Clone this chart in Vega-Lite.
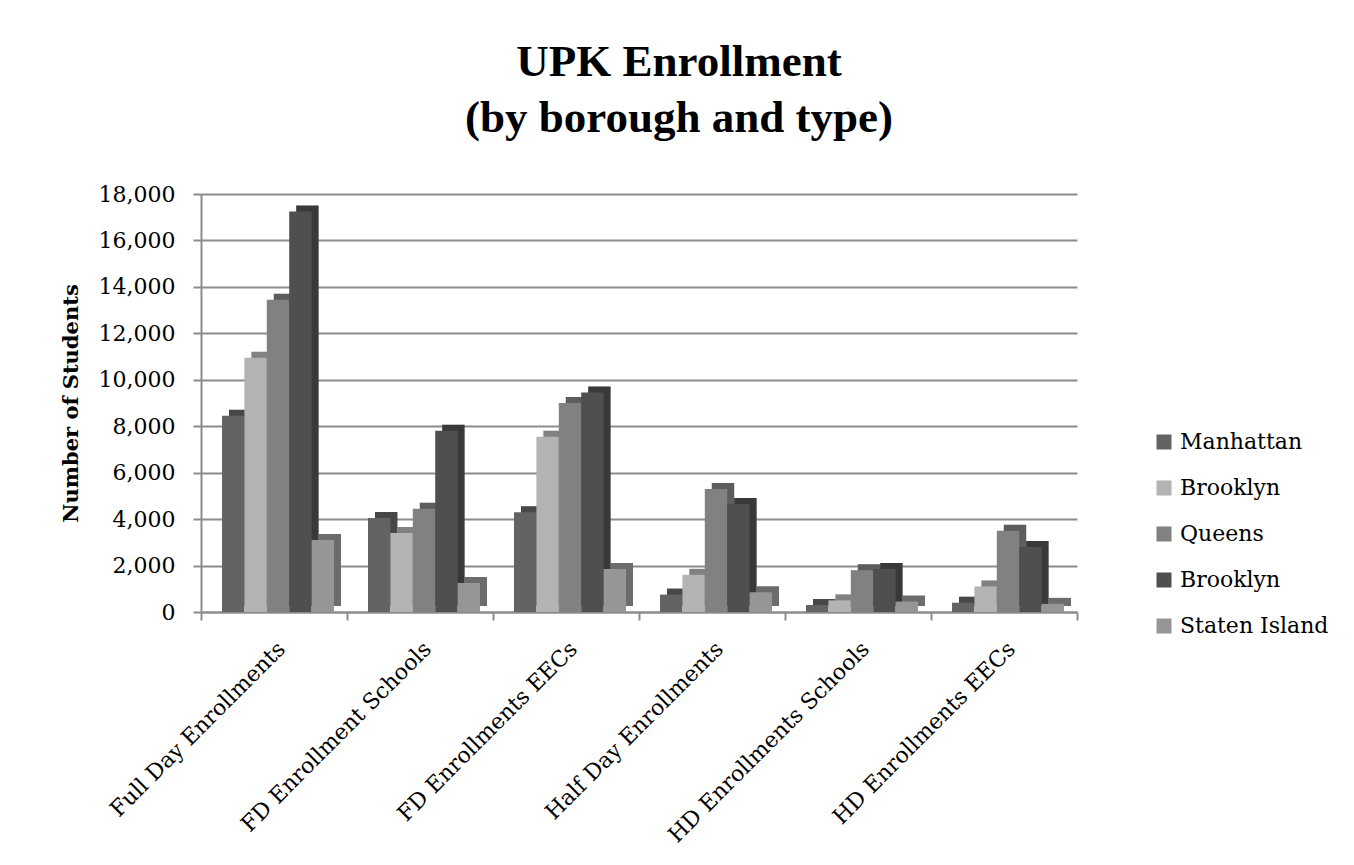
{
  "$schema": "https://vega.github.io/schema/vega-lite/v6.json",
  "width": 876,
  "height": 418,
  "padding": {"left": 60, "top": 40, "right": 5, "bottom": 5},
  "background": "white",
  "title": {
    "text": ["UPK Enrollment", "(by borough and type)"],
    "font": "Liberation Serif",
    "fontSize": 45,
    "fontWeight": "bold",
    "color": "#000000",
    "lineHeight": 56,
    "anchor": "middle",
    "dx": 40,
    "offset": 42
  },
  "data": {
    "values": [
      {"category": "Full Day Enrollments", "series": "Manhattan", "value": 8450},
      {"category": "Full Day Enrollments", "series": "Brooklyn", "value": 10950},
      {"category": "Full Day Enrollments", "series": "Queens", "value": 13450},
      {"category": "Full Day Enrollments", "series": "Brooklyn ", "value": 17250},
      {"category": "Full Day Enrollments", "series": "Staten Island", "value": 3100},
      {"category": "FD Enrollment Schools", "series": "Manhattan", "value": 4050},
      {"category": "FD Enrollment Schools", "series": "Brooklyn", "value": 3400},
      {"category": "FD Enrollment Schools", "series": "Queens", "value": 4450},
      {"category": "FD Enrollment Schools", "series": "Brooklyn ", "value": 7800},
      {"category": "FD Enrollment Schools", "series": "Staten Island", "value": 1250},
      {"category": "FD Enrollments EECs", "series": "Manhattan", "value": 4300},
      {"category": "FD Enrollments EECs", "series": "Brooklyn", "value": 7550},
      {"category": "FD Enrollments EECs", "series": "Queens", "value": 9000},
      {"category": "FD Enrollments EECs", "series": "Brooklyn ", "value": 9450},
      {"category": "FD Enrollments EECs", "series": "Staten Island", "value": 1850},
      {"category": "Half Day Enrollments", "series": "Manhattan", "value": 750},
      {"category": "Half Day Enrollments", "series": "Brooklyn", "value": 1600},
      {"category": "Half Day Enrollments", "series": "Queens", "value": 5300},
      {"category": "Half Day Enrollments", "series": "Brooklyn ", "value": 4650},
      {"category": "Half Day Enrollments", "series": "Staten Island", "value": 850},
      {"category": "HD Enrollments Schools", "series": "Manhattan", "value": 300},
      {"category": "HD Enrollments Schools", "series": "Brooklyn", "value": 500},
      {"category": "HD Enrollments Schools", "series": "Queens", "value": 1800},
      {"category": "HD Enrollments Schools", "series": "Brooklyn ", "value": 1850},
      {"category": "HD Enrollments Schools", "series": "Staten Island", "value": 450},
      {"category": "HD Enrollments  EECs", "series": "Manhattan", "value": 400},
      {"category": "HD Enrollments  EECs", "series": "Brooklyn", "value": 1100},
      {"category": "HD Enrollments  EECs", "series": "Queens", "value": 3500},
      {"category": "HD Enrollments  EECs", "series": "Brooklyn ", "value": 2800},
      {"category": "HD Enrollments  EECs", "series": "Staten Island", "value": 350}
    ]
  },
  "encoding": {
    "x": {
      "field": "category",
      "type": "nominal",
      "sort": null,
      "scale": {"paddingInner": 0, "paddingOuter": 0},
      "axis": {
        "title": null,
        "labelAngle": -45,
        "labelFont": "DejaVu Serif",
        "labelFontSize": 22,
        "labelColor": "#000000",
        "labelPadding": 18,
        "labelLimit": 400,
        "tickBand": "extent",
        "tickSize": 8,
        "tickColor": "#8c8c8c",
        "tickWidth": 2,
        "domainColor": "#8c8c8c",
        "domainWidth": 2,
        "grid": false
      }
    },
    "y": {
      "field": "value",
      "type": "quantitative",
      "scale": {"domain": [0, 18000]},
      "axis": {
        "title": "Number of Students",
        "titleFont": "DejaVu Serif",
        "titleFontSize": 21,
        "titleFontWeight": "bold",
        "titleColor": "#000000",
        "titlePadding": 17,
        "values": [0, 2000, 4000, 6000, 8000, 10000, 12000, 14000, 16000, 18000],
        "format": ",d",
        "labelFont": "DejaVu Serif",
        "labelFontSize": 22,
        "labelColor": "#000000",
        "labelPadding": 18,
        "tickSize": 8,
        "tickColor": "#8c8c8c",
        "tickWidth": 2,
        "domainColor": "#8c8c8c",
        "domainWidth": 2,
        "gridColor": "#8c8c8c",
        "gridWidth": 2
      }
    },
    "color": {
      "field": "series",
      "type": "nominal",
      "scale": {
        "domain": ["Manhattan", "Brooklyn", "Queens", "Brooklyn ", "Staten Island"],
        "range": ["#636363", "#b3b3b3", "#818181", "#4f4f4f", "#969696"]
      },
      "legend": {
        "title": null,
        "orient": "none",
        "legendX": 952,
        "legendY": 237,
        "symbolType": "square",
        "symbolSize": 225,
        "symbolStrokeWidth": 0,
        "labelFont": "DejaVu Serif",
        "labelFontSize": 22,
        "labelColor": "#000000",
        "labelOffset": 5,
        "rowPadding": 24
      }
    }
  },
  "layer": [
    {
      "mark": {"type": "bar", "yOffset": -6},
      "encoding": {
        "xOffset": {
          "field": "series",
          "type": "nominal",
          "sort": ["Manhattan", "Brooklyn", "Queens", "Brooklyn ", "Staten Island"],
          "scale": {"paddingInner": 0, "paddingOuter": 0, "range": [28, 140]}
        }
      }
    },
    {
      "mark": {"type": "bar", "yOffset": -6, "opacity": 0.28},
      "encoding": {
        "color": {"value": "#000000"},
        "xOffset": {
          "field": "series",
          "type": "nominal",
          "sort": ["Manhattan", "Brooklyn", "Queens", "Brooklyn ", "Staten Island"],
          "scale": {"paddingInner": 0, "paddingOuter": 0, "range": [28, 140]}
        }
      }
    },
    {
      "mark": {"type": "bar"},
      "encoding": {
        "xOffset": {
          "field": "series",
          "type": "nominal",
          "sort": ["Manhattan", "Brooklyn", "Queens", "Brooklyn ", "Staten Island"],
          "scale": {"paddingInner": 0, "paddingOuter": 0, "range": [21, 133]}
        }
      }
    }
  ],
  "resolve": {"scale": {"xOffset": "independent"}},
  "config": {
    "view": {"stroke": null}
  }
}
